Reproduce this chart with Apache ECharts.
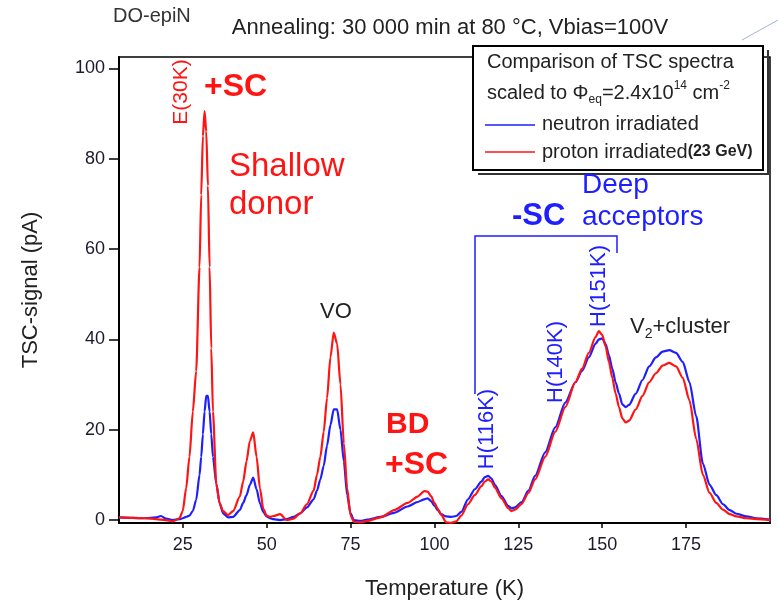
<!DOCTYPE html>
<html>
<head>
<meta charset="utf-8">
<script src="https://cdn.jsdelivr.net/npm/echarts@6/dist/echarts.min.js"></script>
<style>
html,body{margin:0;padding:0;background:#fff;}
#main{width:778px;height:605px;}
</style>
</head>
<body>
<div id="main"></div>
<script>
// Temperature grid (K)
const temps = [6,10,14,17,18.5,20,22,24,25,26,27,28,29,30,30.5,31,31.5,32,32.5,33,33.5,34,35,36,37,38.5,40,42,43,44,45,46,47,48,49,50,51,52,54,56,58,60,62,64,65,66,67,68,69,70,71,72,73,74,75,76,78,80,84,88,92,95,97,98,99,100,101,102,103.5,105,106.5,108,110,112,114,115,116,117,118,120,122,123,124,126,128,130,133,136,139,142,144,146,148,149,150,151,152,153,154,155,156,157,158,160,162,164,166,168,170,172,174,176,178,180,182,184,186,188,190,193,196,200];
// proton irradiated (23 GeV), pA
const proton = [0.6,0.5,0.4,0.2,0.1,0,-0.3,0.4,2,7,14,24,33,56,72,85,90.5,86,74,56,38,24,8,3.7,2,1.1,2,5.2,8.5,13,17.5,19.4,14,7,2.5,1,0.7,0.9,1.3,0,0.3,1.5,3.5,6.5,10,14,19.5,27,36,41.5,39,30,17,7,1,-0.4,-0.5,-0.2,0.6,2.2,3.8,5.2,6.4,6.3,5.3,3.8,2.5,1.2,-0.5,-0.6,-0.3,1.0,3.5,5.5,7.5,8.5,9,8.5,7.2,4.8,2.6,2.0,2.3,3.6,6,9,14,19.5,25,30.5,33.5,37,40.5,41.8,41,38.5,35,31.5,28,25,22.5,21.6,22,24.5,27.5,30.5,32.5,34.2,34.8,34,31.5,26.5,18,10,6,3.8,2.3,1.3,0.8,0.4,0.2,0];
// neutron irradiated, pA
const neutron = [0.6,0.5,0.4,0.6,0.9,0.3,0,0.2,0.4,0.7,1,2,4.5,10,14,19,24,27.5,27.5,24,19,14,8,3.7,1.5,0.6,0.7,2.2,3.8,5.5,7.8,9.4,6.8,3.7,1.8,0.8,0.4,0.2,0,0.2,0.7,1.5,2.8,4.6,6.5,9,12,16.5,21,24.5,24.5,20,13,5.5,1.5,0,-0.2,0.1,0.7,1.6,3,4,4.6,4.8,4.2,3.2,2.2,1.3,0.8,0.7,0.9,1.8,4.6,6.8,8.5,9.5,9.8,9.2,7.8,5.3,3.1,2.6,2.8,4,6.5,9.8,15,20.5,26,30.5,33,36,39,40,40.2,39,36.5,33.5,30.5,28,25.6,25,25.5,28,31,34,36,37.3,37.6,37,35,30.5,23,12.5,7.8,5.5,3.5,2.2,1.4,0.8,0.4,0.1];
const xTicks = [25,50,75,100,125,150,175];
const yTicks = [0,20,40,60,80,100];

const F = "'Liberation Sans', Arial, sans-serif";
const RED = '#ff1414';
const BLUE = '#1e1eff';

const chart = echarts.init(document.getElementById('main'), null, {renderer:'canvas'});

function vtext(text, x, y, color, size) {
  return {type:'text', x:x, y:y, rotation:Math.PI/2, z:50,
    style:{text:text, fill:color, font:size+'px '+F, align:'center', verticalAlign:'middle'}};
}
function htext(text, x, y, color, size, bold, align) {
  return {type:'text', x:x, y:y, z:50,
    style:{text:text, fill:color, font:(bold?'bold ':'')+size+'px '+F, align:align||'left', verticalAlign:'middle'}};
}

const option = {
  backgroundColor:'#fff',
  animation:false,
  grid:{left:119, right:8, top:57, bottom:75, show:true, borderColor:'#000', borderWidth:1.5, backgroundColor:'transparent'},
  xAxis:{
    type:'value', min:6, max:200,
    axisLine:{show:true, onZero:false, lineStyle:{color:'#000', width:2}},
    axisTick:{show:true, inside:false, length:5, customValues:xTicks, lineStyle:{color:'#000', width:1.5}},
    axisLabel:{customValues:xTicks, margin:13, color:'#1a1a2e', fontSize:18, fontFamily:F},
    splitLine:{show:false},
    name:'Temperature (K)', nameLocation:'middle', nameGap:55,
    nameTextStyle:{color:'#222', fontSize:22, fontFamily:F}
  },
  yAxis:{
    type:'value', min:-0.65, max:102.5,
    axisLine:{show:true, onZero:false, lineStyle:{color:'#000', width:2}},
    axisTick:{show:true, inside:false, length:10, customValues:yTicks, lineStyle:{color:'#000', width:1.5}},
    axisLabel:{customValues:yTicks, margin:14, color:'#1a1a2e', fontSize:18, fontFamily:F},
    splitLine:{show:false},
    name:'TSC-signal (pA)', nameLocation:'middle', nameGap:77, nameRotate:90,
    nameTextStyle:{color:'#222', fontSize:22, fontFamily:F}
  },
  series:[
    {name:'neutron irradiated', type:'line', showSymbol:false, smooth:0.25, smoothMonotone:'x',
     lineStyle:{color:BLUE, width:2.2}, itemStyle:{color:BLUE},
     data:temps.map((t,i)=>[t, neutron[i]])},
    {name:'proton irradiated', type:'line', showSymbol:false, smooth:0.25, smoothMonotone:'x',
     lineStyle:{color:RED, width:2.2}, itemStyle:{color:RED},
     data:temps.map((t,i)=>[t, proton[i]])}
  ],
  graphic:[
    // header texts
    htext('DO-epiN', 113, 16, '#333', 20, false),
    htext('Annealing: 30 000 min at 80 \u00B0C, Vbias=100V', 450, 28, '#222', 22, false, 'center'),
    // faint corner line
    {type:'polyline', z:5, shape:{points:[[742,40],[778,20]]}, style:{stroke:'#9fb4d8', lineWidth:1, fill:null}},
    // legend box
    {type:'polyline', z:40, shape:{points:[[768,50],[768,174],[478,174]]}, style:{stroke:'#333', lineWidth:2, fill:null}},
    {type:'rect', z:41, shape:{x:473, y:46, width:290, height:124}, style:{fill:'#fff', stroke:'#000', lineWidth:2}},
    htext('Comparison of TSC spectra', 487, 62, '#222', 20, false),
    {type:'text', x:487, y:93, z:50, style:{
      text:'{n|scaled to \u03A6}{s|eq}{n|=2.4x10}{u|14}{n| cm}{u|-2}',
      fill:'#222', verticalAlign:'middle', align:'left',
      rich:{
        n:{fontSize:20, fontFamily:F, fill:'#222', lineHeight:26, verticalAlign:'middle'},
        s:{fontSize:12, fontFamily:F, fill:'#222', lineHeight:12, verticalAlign:'bottom'},
        u:{fontSize:12, fontFamily:F, fill:'#222', lineHeight:12, verticalAlign:'top'}
      }}},
    {type:'line', z:50, shape:{x1:485, y1:125, x2:535, y2:125}, style:{stroke:BLUE, lineWidth:1.5}},
    {type:'line', z:50, shape:{x1:485, y1:152, x2:535, y2:152}, style:{stroke:RED, lineWidth:1.5}},
    htext('neutron irradiated', 542, 124, '#222', 20, false),
    {type:'text', x:542, y:152, z:50, style:{
      text:'{n|proton irradiated}{b|(23 GeV)}', verticalAlign:'middle', align:'left',
      rich:{
        n:{fontSize:20, fontFamily:F, fill:'#222', lineHeight:24, verticalAlign:'middle'},
        b:{fontSize:16, fontFamily:F, fontWeight:'bold', fill:'#222', lineHeight:16, verticalAlign:'middle'}
      }}},
    // annotations
    vtext('E(30K)', 181, 92, RED, 21),
    htext('+SC', 204, 87, RED, 32, true),
    htext('Shallow', 229, 167, RED, 33, false),
    htext('donor', 229, 205, RED, 33, false),
    htext('VO', 336, 312, '#222', 22, false, 'center'),
    htext('BD', 386, 425, RED, 30, true),
    htext('+SC', 385, 465, RED, 32, true),
    vtext('H(116K)', 487, 429, BLUE, 22),
    vtext('H(140K)', 556, 362, BLUE, 22),
    vtext('H(151K)', 599, 286, BLUE, 22),
    {type:'text', x:630, y:327, z:50, style:{
      text:'{n|V}{s|2}{n|+cluster}', verticalAlign:'middle', align:'left',
      rich:{
        n:{fontSize:22, fontFamily:F, fill:'#222', lineHeight:28, verticalAlign:'middle'},
        s:{fontSize:14, fontFamily:F, fill:'#222', lineHeight:14, verticalAlign:'bottom'}
      }}},
    htext('-SC', 512, 216, BLUE, 31, true),
    htext('Deep', 582, 185, BLUE, 28, false),
    htext('acceptors', 582, 217, BLUE, 28, false),
    {type:'polyline', z:30, shape:{points:[[475,394],[475,236],[617,236],[617,253]]}, style:{stroke:BLUE, lineWidth:1.5, fill:null}}
  ]
};
chart.setOption(option);
</script>
</body>
</html>
